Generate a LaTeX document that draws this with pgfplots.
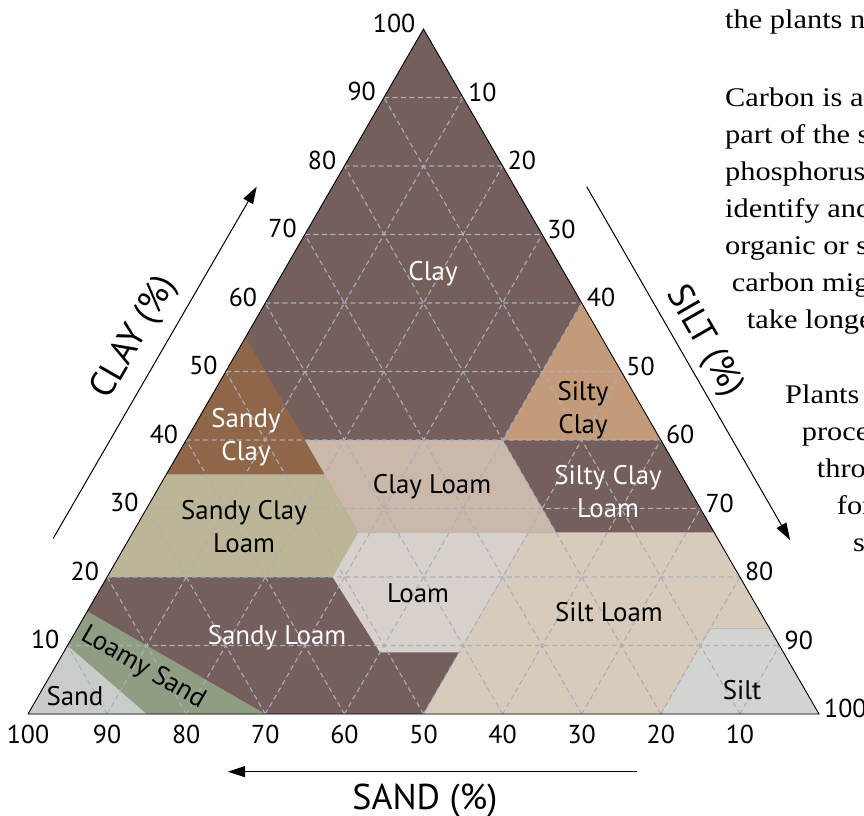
\documentclass[border=0pt]{standalone}
\usepackage{pgfplots}
\pgfplotsset{compat=1.18}
\usetikzlibrary{arrows.meta}
\usepackage{fontspec}
\setmainfont{PT Sans}
\newfontfamily\serif[FakeStretch=1.13]{Liberation Serif}

\definecolor{bgc}{HTML}{745F5D}
\definecolor{sandyclay}{HTML}{8F6748}
\definecolor{siltyclay}{HTML}{C49B79}
\definecolor{scl}{HTML}{BDB696}
\definecolor{clayloam}{HTML}{CAB9AB}
\definecolor{loam}{HTML}{D8D1CB}
\definecolor{siltloam}{HTML}{D7CCBC}
\definecolor{siltc}{HTML}{D2D4D1}
\definecolor{loamysand}{HTML}{8F9D83}
\definecolor{sandc}{HTML}{C9CDC9}
\definecolor{gridc}{HTML}{A7AFBB}

\pgfplotsset{/pgfplots/table/tern/.style={x expr=\thisrow{s}+0.5*\thisrow{c}, y expr=0.8660254*\thisrow{c}}}

\begin{document}
\begin{tikzpicture}
\useasboundingbox (0,0) rectangle (864bp,816bp);
\begin{axis}[
  at={(0,0)}, anchor=south west,
  width=864bp, height=816bp, scale only axis,
  xmin=-3.54, xmax=105.69, ymin=-12.895, ymax=90.27,
  hide axis, clip=false,
]
% regions: columns s = silt (%), c = clay (%)
\addplot[fill=bgc, draw=none] table[tern] {
s c
0 0
100 0
0 100
};
\addplot[fill=sandyclay, draw=none] table[tern] {
s c
0 55
20 35
0 35
};
\addplot[fill=scl, draw=none] table[tern] {
s c
0 35
20 35
28.5 26.5
28.5 20
0 20
};
\addplot[fill=clayloam, draw=none] table[tern] {
s c
15 40
40 40
53.5 26.5
28.5 26.5
};
\addplot[fill=siltyclay, draw=none] table[tern] {
s c
40 60
40 40
60 40
};
\addplot[fill=siltloam, draw=none] table[tern] {
s c
50 0
80 0
80 12.5
87.5 12.5
73.5 26.5
50 26.5
};
\addplot[fill=loam, draw=none] table[tern] {
s c
28.5 26.5
50 26.5
50 9
40 9
28.5 20
};
\addplot[fill=siltc, draw=none] table[tern] {
s c
80 12.5
87.5 12.5
100 0
80 0
};
\addplot[fill=loamysand, draw=none] table[tern] {
s c
0 15
30 0
15 0
0 10
};
\addplot[fill=sandc, draw=none] table[tern] {
s c
0 10
15 0
0 0
};
% grid
\foreach \k in {10,20,...,90}{
  \edef\tmp{\noexpand\draw[gridc, line width=1.1bp, dash pattern=on 5bp off 3.5bp]
    (axis cs:{0.5*\k},{0.8660254*\k}) -- (axis cs:{100-0.5*\k},{0.8660254*\k})
    (axis cs:\k,0) -- (axis cs:{50+0.5*\k},{0.8660254*(100-\k)})
    (axis cs:{100-\k},0) -- (axis cs:{0.5*(100-\k)},{0.8660254*(100-\k)});}
  \tmp
}
\addplot[black, line width=0.9bp] table[tern] {
s c
0 0
100 0
0 100
0 0
};
\end{axis}

\begin{scope}[x=1bp, y=-1bp, yshift=816bp]
\tikzset{tl/.style={inner sep=0pt, font=\fontsize{26}{31}\selectfont}}
% clay ticks (left)
\foreach \k in {10,20,...,100}
  \node[tl, anchor=east] at ({28+3.955*\k-8},{714-6.85*\k-6}) {\k};
% silt ticks (right)
\foreach \k in {10,20,...,100}
  \node[tl, anchor=west] at ({423.5+3.955*\k+5},{29+6.85*\k-5.5}) {\k};
% sand ticks (bottom)
\foreach \k in {10,20,...,100}
  \node[tl, anchor=north] at ({819-7.91*\k},725) {\k};

% arrows
\draw[line width=1bp, -{Triangle[length=17bp,width=11bp]}] (53.3,538.3) -- (256.7,186.7);
\draw[line width=1bp, -{Triangle[length=17bp,width=11bp]}] (586.7,186.7) -- (790,540);
\draw[line width=1bp, -{Triangle[length=17bp,width=11bp]}] (636.7,771.7) -- (228,771.7);

% axis titles
\tikzset{ttl/.style={inner sep=0pt, font=\fontsize{36}{42}\selectfont}}
\node[ttl, rotate=60] at (135,338) {CLAY (\%)};
\node[ttl, rotate=-60] at (704,341) {SILT (\%)};
\node[ttl, anchor=base] at (425,810) {SAND (\%)};

% region labels
\tikzset{rl/.style={inner sep=0pt, align=center, font=\fontsize{27}{33}\selectfont}}
\node[rl, text=white] at (433,274) {Clay};
\node[rl, text=white] at (246,437) {Sandy\\Clay};
\node[rl] at (244,527) {Sandy Clay\\Loam};
\node[rl] at (432,487) {Clay Loam};
\node[rl] at (583,410) {Silty\\Clay};
\node[rl, text=white] at (608,492) {Silty Clay\\Loam};
\node[rl] at (418,593) {Loam};
\node[rl] at (609,612) {Silt Loam};
\node[rl, text=white] at (277,638) {Sandy Loam};
\node[rl, rotate=-30] at (143,668) {Loamy Sand};
\node[rl] at (75,696) {Sand};
\node[rl] at (742,690) {Silt};

% surrounding page text (cut off at the right)
\tikzset{st/.style={inner sep=0pt, anchor=base west, font=\serif\fontsize{27}{37}\selectfont}}
\node[st] at (725,29) {the plants need};
\node[st] at (725,107) {Carbon is an};
\node[st] at (725,144) {part of the soil};
\node[st] at (725,181) {phosphorus};
\node[st] at (725,218) {identify and};
\node[st] at (725,255) {organic or soil};
\node[st] at (731.7,292) {carbon might};
\node[st] at (746.7,329) {take longer};
\node[st] at (785,404) {Plants};
\node[st] at (801.7,441) {process};
\node[st] at (816.7,478) {through};
\node[st] at (836.7,515) {form};
\node[st] at (853,552) {soil};
\end{scope}
\end{tikzpicture}
\end{document}
